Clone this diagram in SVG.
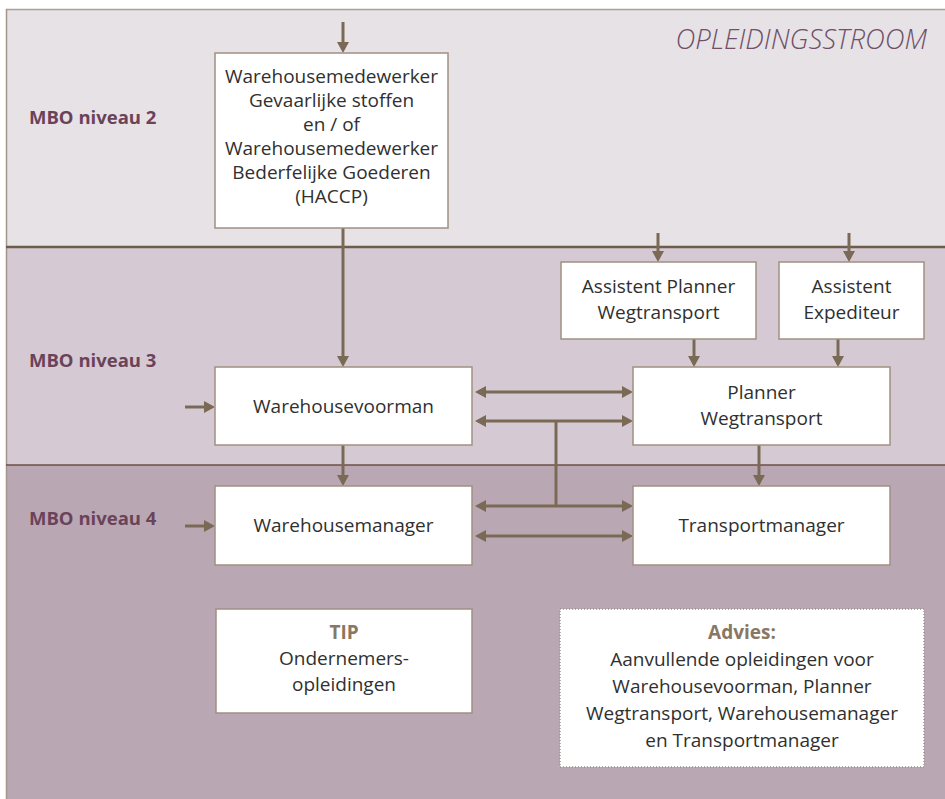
<svg xmlns="http://www.w3.org/2000/svg" width="945" height="799" viewBox="0 0 945 799">
<defs>
<style>
.box{fill:#ffffff;stroke:#a09082;stroke-width:1.5}
.dot{fill:#ffffff;stroke:#9a9088;stroke-width:1.5;stroke-dasharray:1 2}
.t{font-family:"Open Sans","Noto Sans",sans-serif;font-size:19px;fill:#303030;text-anchor:middle}
.tb{font-family:"Open Sans","Noto Sans",sans-serif;font-size:19px;font-weight:bold;fill:#8a7763;text-anchor:middle}
.lvl{font-family:"Open Sans","Noto Sans",sans-serif;font-size:18.5px;font-weight:bold;fill:#6b4359}
.c{stroke:#7a6a55;stroke-width:3;fill:none}
</style>
<marker id="ah" markerUnits="userSpaceOnUse" markerWidth="12" markerHeight="12" refX="8" refY="6" orient="auto-start-reverse" viewBox="0 0 12 12">
<path d="M0,0 L11,6 L0,12 z" fill="#7a6a55"/>
</marker>
</defs>
<g id="background">
<rect x="6" y="9" width="939" height="238" fill="#e7e2e6"/>
<rect x="6" y="247" width="939" height="218" fill="#d5cad3"/>
<rect x="6" y="465" width="939" height="334" fill="#b9a8b4"/>
<line x1="6" y1="9.5" x2="945" y2="9.5" stroke="#ad9f92" stroke-width="1.5"/>
<line x1="6.5" y1="9" x2="6.5" y2="799" stroke="#a3958a" stroke-width="1.5"/>
<line x1="6" y1="247" x2="945" y2="247" stroke="#6e5c4b" stroke-width="2.5"/>
<line x1="6" y1="465" x2="945" y2="465" stroke="#6d4f44" stroke-width="1.5"/>
<text x="927" y="49" font-family="'Open Sans','Noto Sans',sans-serif" font-size="27.5" font-style="italic" font-weight="300" fill="#6e5068" text-anchor="end">OPLEIDINGSSTROOM</text>
<text class="lvl" x="29" y="124">MBO niveau 2</text>
<text class="lvl" x="29" y="367">MBO niveau 3</text>
<text class="lvl" x="29" y="525">MBO niveau 4</text>
</g>
<g id="connectors">
<line class="c" x1="343" y1="22" x2="343" y2="50" marker-end="url(#ah)"/>
<line class="c" x1="343" y1="228" x2="343" y2="364" marker-end="url(#ah)"/>
<line class="c" x1="343" y1="445" x2="343" y2="483" marker-end="url(#ah)"/>
<line class="c" x1="185" y1="407" x2="212" y2="407" marker-end="url(#ah)"/>
<line class="c" x1="185" y1="526" x2="212" y2="526" marker-end="url(#ah)"/>
<line class="c" x1="478" y1="392" x2="630" y2="392" marker-start="url(#ah)" marker-end="url(#ah)"/>
<line class="c" x1="478" y1="421" x2="630" y2="421" marker-start="url(#ah)" marker-end="url(#ah)"/>
<line class="c" x1="478" y1="506" x2="630" y2="506" marker-start="url(#ah)" marker-end="url(#ah)"/>
<line class="c" x1="478" y1="536" x2="630" y2="536" marker-start="url(#ah)" marker-end="url(#ah)"/>
<line class="c" x1="556" y1="421" x2="556" y2="506"/>
<line class="c" x1="658" y1="233" x2="658" y2="259" marker-end="url(#ah)"/>
<line class="c" x1="849" y1="233" x2="849" y2="259" marker-end="url(#ah)"/>
<line class="c" x1="694" y1="339" x2="694" y2="364" marker-end="url(#ah)"/>
<line class="c" x1="838" y1="339" x2="838" y2="364" marker-end="url(#ah)"/>
<line class="c" x1="759" y1="445" x2="759" y2="483" marker-end="url(#ah)"/>
</g>
<g id="n-warehousemedewerker">
<rect class="box" x="215" y="53" width="233" height="175"/>
<text class="t" x="331.5" y="83">Warehousemedewerker</text>
<text class="t" x="331.5" y="107">Gevaarlijke stoffen</text>
<text class="t" x="331.5" y="131">en / of</text>
<text class="t" x="331.5" y="155">Warehousemedewerker</text>
<text class="t" x="331.5" y="179">Bederfelijke Goederen</text>
<text class="t" x="331.5" y="203">(HACCP)</text>
</g>
<g id="n-assistent-planner">
<rect class="box" x="561" y="262" width="195" height="77"/>
<text class="t" x="658.5" y="293">Assistent Planner</text>
<text class="t" x="658.5" y="319">Wegtransport</text>
</g>
<g id="n-assistent-expediteur">
<rect class="box" x="779" y="262" width="145" height="77"/>
<text class="t" x="851.5" y="293">Assistent</text>
<text class="t" x="851.5" y="319">Expediteur</text>
</g>
<g id="n-warehousevoorman">
<rect class="box" x="215" y="367" width="257" height="78"/>
<text class="t" x="343.5" y="413">Warehousevoorman</text>
</g>
<g id="n-planner">
<rect class="box" x="633" y="367" width="257" height="78"/>
<text class="t" x="761.5" y="399">Planner</text>
<text class="t" x="761.5" y="425">Wegtransport</text>
</g>
<g id="n-warehousemanager">
<rect class="box" x="215" y="486" width="257" height="79"/>
<text class="t" x="343.5" y="532">Warehousemanager</text>
</g>
<g id="n-transportmanager">
<rect class="box" x="633" y="486" width="257" height="79"/>
<text class="t" x="761.5" y="532">Transportmanager</text>
</g>
<g id="n-tip">
<rect class="box" x="216" y="609" width="256" height="104"/>
<text class="tb" x="344" y="639">TIP</text>
<text class="t" x="344" y="665">Ondernemers-</text>
<text class="t" x="344" y="691">opleidingen</text>
</g>
<g id="n-advies">
<rect class="dot" x="560" y="609" width="364" height="158"/>
<text class="tb" x="742" y="639">Advies:</text>
<text class="t" x="742" y="666">Aanvullende opleidingen voor</text>
<text class="t" x="742" y="693">Warehousevoorman, Planner</text>
<text class="t" x="742" y="720">Wegtransport, Warehousemanager</text>
<text class="t" x="742" y="747">en Transportmanager</text>
</g>
</svg>
